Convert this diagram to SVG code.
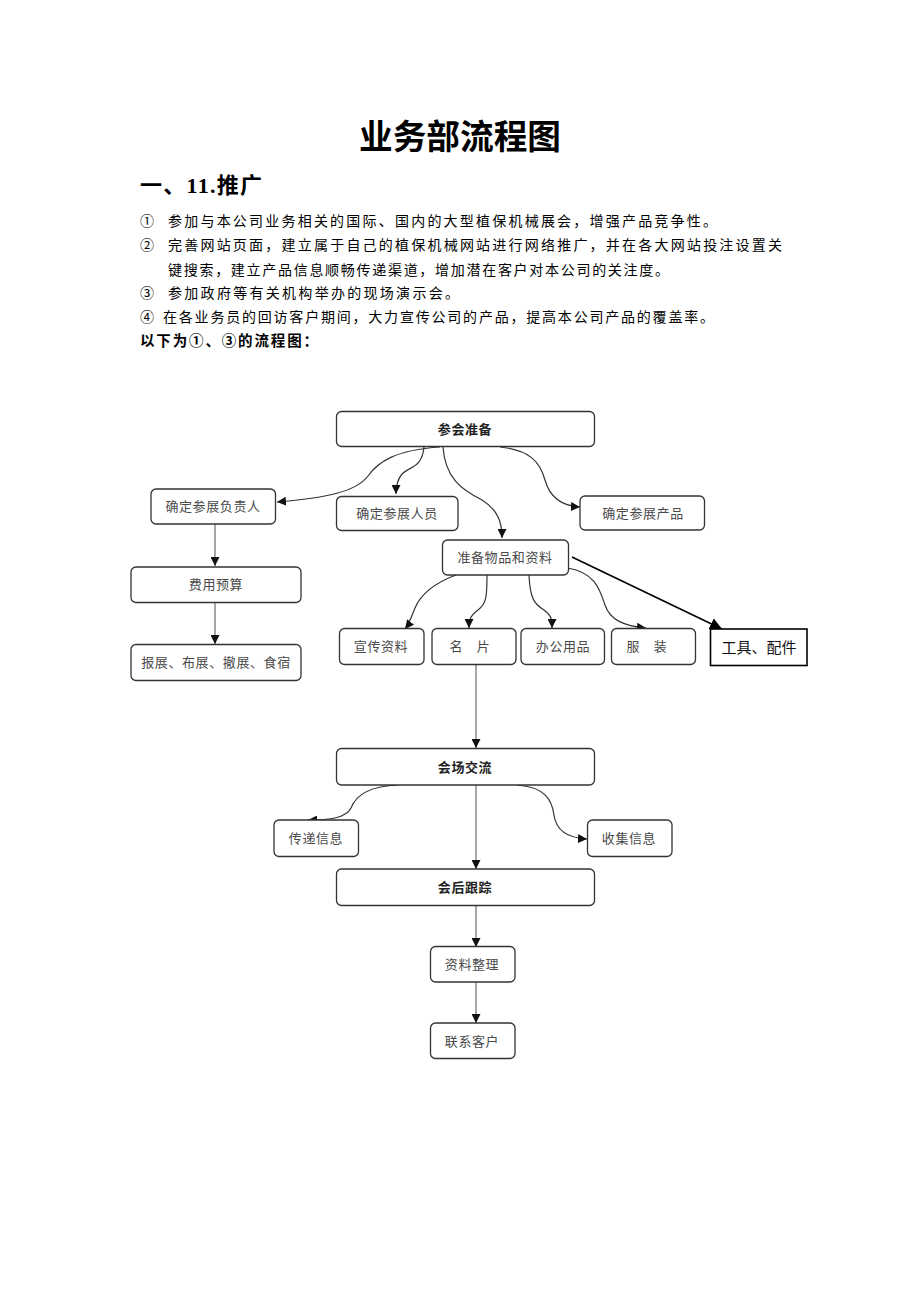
<svg xmlns="http://www.w3.org/2000/svg" width="920" height="1302" viewBox="0 0 920 1302">
<defs>
<marker id="ah" markerUnits="userSpaceOnUse" markerWidth="9" markerHeight="9" viewBox="0 0 10 10" refX="10" refY="5" orient="auto">
<path d="M0,0 L10,5 L0,10 z" fill="#111"/>
</marker>
<marker id="ahb" markerUnits="userSpaceOnUse" markerWidth="12" markerHeight="12" viewBox="0 0 10 10" refX="10" refY="5" orient="auto">
<path d="M0,0 L10,5 L0,10 z" fill="#000"/>
</marker>
</defs>
<style>
.bg{fill:#fff}
.t{font-family:"Liberation Serif","Noto Sans CJK SC",serif;fill:#000}
.title{font-size:34px;font-weight:bold;text-anchor:middle}
.h1{font-size:22px;font-weight:bold}
.p{font-size:14px}
.pb{font-size:14.5px;font-weight:bold}
.node rect{fill:#fff;stroke:#333;stroke-width:1.3}
.node text{font-family:"Liberation Serif","Noto Sans CJK SC",serif;font-size:13px;fill:#4a4a4a;text-anchor:middle;dominant-baseline:central;letter-spacing:0.6px}
.node.main text{font-weight:bold;fill:#222}
.node.sq rect{stroke:#000;stroke-width:1.6}
.node.sq text{font-size:15px;fill:#111;letter-spacing:0}
.c{fill:none;stroke:#333;stroke-width:1.2;marker-end:url(#ah)}
.v{fill:none;stroke:#777;stroke-width:1.3;marker-end:url(#ah)}
.k{fill:none;stroke:#000;stroke-width:1.6;marker-end:url(#ahb)}
</style>
<rect class="bg" x="0" y="0" width="920" height="1302"/>

<g id="header">
<text class="t title" x="460" y="149" textLength="202" lengthAdjust="spacingAndGlyphs">业务部流程图</text>
<text class="t h1" x="140" y="193" textLength="122" lengthAdjust="spacing">一、11.推广</text>
<text class="t p" x="140" y="226">①</text>
<text class="t p" x="168" y="226" textLength="549" lengthAdjust="spacing">参加与本公司业务相关的国际、国内的大型植保机械展会，增强产品竞争性。</text>
<text class="t p" x="140" y="250">②</text>
<text class="t p" x="168" y="250" textLength="614" lengthAdjust="spacing">完善网站页面，建立属于自己的植保机械网站进行网络推广，并在各大网站投注设置关</text>
<text class="t p" x="168" y="275" textLength="501" lengthAdjust="spacing">键搜索，建立产品信息顺畅传递渠道，增加潜在客户对本公司的关注度。</text>
<text class="t p" x="140" y="298">③</text>
<text class="t p" x="168" y="298" textLength="291" lengthAdjust="spacing">参加政府等有关机构举办的现场演示会。</text>
<text class="t p" x="140" y="322">④</text>
<text class="t p" x="163" y="322" textLength="551" lengthAdjust="spacing">在各业务员的回访客户期间，大力宣传公司的产品，提高本公司产品的覆盖率。</text>
<text class="t pb" x="140" y="346" textLength="178" lengthAdjust="spacing">以下为①、③的流程图：</text>
</g>

<g id="connectors">
<path class="c" d="M440,447 C395,450 378,462 368,476 C356,492 325,498 277,502"/>
<path class="c" d="M424,447 C422,468 410,466 402,474 C397,480 396,486 396,494"/>
<path class="c" d="M443,447 C445,478 462,490 482,500 C498,510 502,522 502,538"/>
<path class="c" d="M500,447 C530,450 540,462 545,480 C550,498 562,506 580,507"/>
<path class="v" d="M215,524 L215,566"/>
<path class="v" d="M215,602 L215,644"/>
<path class="c" d="M456,575 C432,584 420,596 415,608 C411,618 409,624 405,629"/>
<path class="c" d="M487,575 C487,598 486,604 478,610 C470,616 469,620 469,628"/>
<path class="c" d="M529,575 C530,598 534,604 544,610 C552,616 552,620 552,628"/>
<path class="c" d="M567,568 C595,572 600,590 605,605 C610,620 624,626 646,628"/>
<path class="k" d="M572,557 L722,629"/>
<path class="v" d="M476,665 L476,748"/>
<path class="v" d="M476,785 L476,869"/>
<path class="c" d="M398,785 C370,786 356,795 351,808 C346,818 330,820 308,820"/>
<path class="c" d="M517,785 C545,787 552,800 554,815 C556,830 568,838 587,839"/>
<path class="v" d="M476,906 L476,947"/>
<path class="v" d="M476,982 L476,1023"/>
</g>

<g id="n-chz" class="node main"><rect x="336.5" y="411.5" width="258" height="35" rx="5"/><text x="465" y="429">参会准备</text></g>
<g id="n-fzr" class="node"><rect x="151" y="489" width="124.5" height="35" rx="5"/><text x="213" y="506.5">确定参展负责人</text></g>
<g id="n-ry" class="node"><rect x="336.5" y="496.5" width="121.5" height="34" rx="5"/><text x="397" y="513.5">确定参展人员</text></g>
<g id="n-cp" class="node"><rect x="580" y="496" width="124.5" height="34" rx="5"/><text x="643" y="513">确定参展产品</text></g>
<g id="n-wp" class="node"><rect x="442.5" y="540" width="126" height="35" rx="5"/><text x="505" y="557.5">准备物品和资料</text></g>
<g id="n-fy" class="node"><rect x="131" y="567" width="170" height="35.5" rx="5"/><text x="216" y="584.5">费用预算</text></g>
<g id="n-bz" class="node"><rect x="131" y="644.5" width="170" height="36" rx="5"/><text x="216" y="662.5">报展、布展、撤展、食宿</text></g>
<g id="n-xc" class="node"><rect x="339.5" y="628.5" width="84.5" height="36" rx="5"/><text x="381" y="646.5">宣传资料</text></g>
<g id="n-mp" class="node"><rect x="432" y="628.5" width="84" height="36" rx="5"/><text x="470" y="646.5" letter-spacing="4">名　片</text></g>
<g id="n-bg" class="node"><rect x="521" y="628.5" width="83.5" height="36" rx="5"/><text x="563" y="646.5">办公用品</text></g>
<g id="n-fz" class="node"><rect x="611.5" y="628.5" width="84" height="36" rx="5"/><text x="647" y="646.5" letter-spacing="4">服　装</text></g>
<g id="n-gj" class="node sq"><rect x="710.5" y="629" width="96.5" height="36.5"/><text x="759" y="647.5">工具、配件</text></g>
<g id="n-hc" class="node main"><rect x="336.5" y="748.5" width="258" height="36.5" rx="5"/><text x="465" y="767">会场交流</text></g>
<g id="n-cd" class="node"><rect x="274" y="820" width="84.5" height="36.5" rx="5"/><text x="316" y="838.5">传递信息</text></g>
<g id="n-sj" class="node"><rect x="587.5" y="820" width="84.5" height="36.5" rx="5"/><text x="629" y="838.5">收集信息</text></g>
<g id="n-hh" class="node main"><rect x="336.5" y="869" width="258" height="36.5" rx="5"/><text x="465" y="887.5">会后跟踪</text></g>
<g id="n-zl" class="node"><rect x="430.5" y="946.5" width="84.5" height="35.5" rx="5"/><text x="472" y="964.5">资料整理</text></g>
<g id="n-lx" class="node"><rect x="430.5" y="1023" width="84.5" height="35.5" rx="5"/><text x="472" y="1041">联系客户</text></g>
</svg>
